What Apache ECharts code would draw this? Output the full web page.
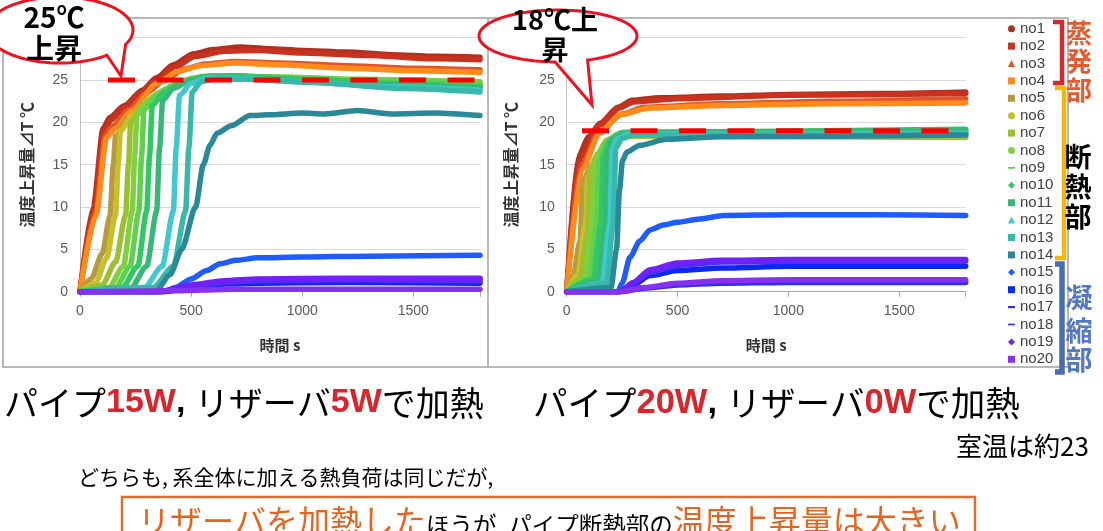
<!DOCTYPE html>
<html><head><meta charset="utf-8">
<script src="https://cdn.jsdelivr.net/npm/echarts@6/dist/echarts.min.js"></script>
<style>html,body{margin:0;padding:0;background:#fff}#c{width:1103px;height:531px}</style>
</head><body><div id="c"></div>
<script>
// ---------- data ----------
const seriesNames = ['no1','no2','no3','no4','no5','no6','no7','no8','no9','no10','no11','no12','no13','no14','no15','no16','no17','no18','no19','no20'];
const seriesColors = ['#B03020','#C8321E','#E0552A','#FF8C1A','#B89A40','#C8C028','#9CC030','#80D040','#60D050','#30C860','#38B878','#40C8D0','#38B8A8','#2A8898','#1E5CFF','#0A28F0','#3030E8','#5030F0','#7020F8','#8830F0'];
const legendIcons = ['circle','rect','triangle','rect','rect','circle','rect','circle','path://M0,0L10,0L10,2.5L0,2.5Z','diamond','rect','triangle','rect','rect','diamond','rect','path://M0,0L8,0L8,2.5L0,2.5Z','path://M0,0L10,0L10,2.5L0,2.5Z','diamond','rect'];
const xTickLabels = [0, 500, 1000, 1500];
const xMax = 1800;
const yMax = 30;
const leftTarget = [[126, 25], [1800, 25]];
const rightTarget = [[69, 19], [1800, 19]];

// Left chart: pipe 15W, reservoir 5W
const leftNo1 = [[0,0],[60,10],[104,19.3],[135,20.6],[200,22],[280,23.8],[346,25.3],[420,26.8],[510,28.1],[600,28.6],[720,28.9],[850,28.7],[1000,28.5],[1200,28.3],[1400,28.0],[1600,27.8],[1800,27.7]];
const leftNo2 = [[0,0],[62,9.5],[108,19],[140,20.3],[200,21.8],[280,23.6],[350,25],[430,26.6],[520,27.8],[650,28.4],[800,28.5],[1000,28.2],[1300,27.9],[1600,27.5],[1800,27.4]];
const leftNo3 = [[0,0],[70,9.5],[115,18.5],[150,19.6],[220,21.5],[300,23.5],[380,25],[470,26.3],[560,26.9],[700,27.2],[900,27],[1200,26.7],[1500,26.4],[1800,26.2]];
const leftNo4 = [[0,0],[72,9],[120,18.2],[160,19.3],[230,21.3],[346,24.6],[440,26],[540,26.7],[700,27.0],[900,26.8],[1200,26.4],[1500,26.1],[1800,25.9]];
const leftNo5 = [[0,0],[50,1.5],[100,4.5],[135,9],[150,15],[160,18.4],[220,20.5],[300,22.5],[380,23.8],[460,24.7],[540,25.2],[700,25.2],[1000,24.9],[1400,24.5],[1800,24.2]];
const leftNo6 = [[0,0],[70,1],[120,4],[160,9],[172,15],[182,19],[240,21],[310,22.7],[400,24],[480,24.9],[560,25.3],[750,25.3],[1100,24.9],[1500,24.5],[1800,24.3]];
const leftNo7 = [[0,0],[100,0.8],[160,3.5],[205,9],[218,15],[228,20],[280,22],[350,23.4],[430,24.5],[510,25.2],[620,25.4],[900,25.2],[1300,24.8],[1800,24.5]];
const leftNo8 = [[0,0],[130,0.5],[195,3],[235,9.5],[246,16],[256,20.8],[310,22.6],[390,24],[480,25],[580,25.5],[850,25.4],[1250,25.1],[1800,24.8]];
const leftNo9 = [[0,0],[160,0.5],[225,3],[265,9.5],[277,16],[288,21.5],[340,23],[420,24.4],[510,25.2],[620,25.5],[950,25.3],[1350,24.9],[1800,24.6]];
const leftNo10 = [[0,0],[190,0.5],[260,3],[300,9.5],[313,16],[325,22],[380,23.6],[460,24.7],[550,25.4],[700,25.5],[1000,25.1],[1400,24.6],[1800,24.2]];
const leftNo11 = [[0,0],[230,0.5],[300,3],[345,9.5],[358,17],[372,22.6],[420,24],[500,25],[590,25.4],[800,25.2],[1200,24.6],[1800,24.0]];
const leftNo12 = [[0,0],[290,0.5],[370,3],[420,9.5],[433,17],[448,23.2],[500,24.6],[570,25.2],[700,25.2],[1000,24.8],[1400,24.2],[1800,23.8]];
const leftNo13 = [[0,0],[330,0.5],[420,3],[475,9.5],[490,17],[505,23.6],[545,24.8],[600,25.1],[750,25.1],[1050,24.7],[1450,24.0],[1800,23.6]];
const leftNo14 = [[0,0],[340,0],[405,2],[458,5],[520,10],[555,15],[585,17.3],[616,18.7],[680,19.6],[765,20.8],[850,20.9],[1000,21.1],[1100,21.0],[1250,21.4],[1400,21.0],[1600,21.1],[1800,20.8]];
const leftNo15 = [[0,0],[380,0],[430,0.5],[500,1.5],[570,2.5],[630,3.3],[700,3.7],[800,4.0],[1000,4.1],[1300,4.2],[1800,4.3]];
const leftNo16 = [[0,0],[380,0],[500,0.5],[650,0.9],[800,1.0],[1200,1.1],[1800,1.0]];
const leftNo17 = [[0,0],[360,0],[500,0.7],[650,1.2],[800,1.4],[1200,1.5],[1800,1.5]];
const leftNo18 = [[0,0],[360,0],[500,0.6],[650,1.1],[800,1.3],[1200,1.4],[1800,1.3]];
const leftNo19 = [[0,0],[350,0],[500,0.8],[650,1.3],[800,1.5],[1200,1.6],[1800,1.6]];
const leftNo20 = [[0,0],[400,0.1],[700,0.3],[1800,0.3]];

// Right chart: pipe 20W, reservoir 0W
const rightNo1 = [[0,0],[51,15.9],[100,18.3],[150,19.9],[232,21.8],[295,22.6],[420,22.9],[700,23.1],[1000,23.3],[1400,23.4],[1800,23.6]];
const rightNo2 = [[0,0],[55,15.5],[150,19.7],[240,21.7],[300,22.4],[500,22.8],[1000,23.2],[1800,23.4]];
const rightNo3 = [[0,0],[62,14.8],[150,19.0],[250,21.0],[350,21.8],[700,22.2],[1200,22.5],[1800,22.8]];
const rightNo4 = [[0,0],[70,14.5],[150,18.7],[240,20.9],[376,21.7],[700,22],[1200,22.2],[1800,22.3]];
const rightNo5 = [[0,0],[30,2],[60,6],[74,13.2],[120,15.2],[182,17.9],[260,18.5],[500,18.6],[1800,18.6]];
const rightNo6 = [[0,0],[50,2],[85,8],[95,13.5],[130,15.8],[182,17.9],[260,18.4],[1800,18.3]];
const rightNo7 = [[0,0],[60,1.5],[95,7],[105,14],[140,16.3],[190,18],[270,18.4],[1800,18.2]];
const rightNo8 = [[0,0],[80,1.5],[115,8],[125,15],[160,17],[210,18.3],[300,18.6],[1800,18.5]];
const rightNo9 = [[0,0],[100,1.5],[135,8],[145,15.5],[175,17.5],[230,18.6],[1800,18.9]];
const rightNo10 = [[0,0],[120,1.5],[155,8],[165,16],[195,17.9],[250,18.8],[1800,19.2]];
const rightNo11 = [[0,0],[140,1.2],[175,8],[185,16.5],[210,18],[260,18.8],[1800,19.1]];
const rightNo12 = [[0,0],[160,1],[195,8],[205,16.8],[230,18.1],[280,18.6],[1800,18.7]];
const rightNo13 = [[0,0],[180,1],[210,8],[222,17],[250,18.1],[300,18.5],[1800,18.6]];
const rightNo14 = [[0,0],[200,0.5],[225,5],[238,12],[252,15.5],[272,16.5],[330,17.3],[450,18.0],[700,18.3],[1800,18.5]];
const rightNo15 = [[0,0],[230,0],[250,1],[286,4.1],[330,6],[376,7.3],[440,7.9],[498,8.2],[600,8.6],[707,9.0],[1000,9.1],[1400,9.1],[1800,9.0]];
const rightNo16 = [[0,0],[240,0],[300,0.8],[376,1.9],[500,2.5],[700,2.8],[1000,3],[1800,3.0]];
const rightNo17 = [[0,0],[240,0],[350,0.4],[500,0.8],[700,1.0],[1000,1.1],[1800,1.1]];
const rightNo18 = [[0,0],[240,0],[300,1],[376,2.3],[498,3.1],[700,3.5],[1000,3.6],[1800,3.6]];
const rightNo19 = [[0,0],[240,0],[300,1.1],[376,2.6],[498,3.4],[700,3.7],[1000,3.8],[1800,3.8]];
const rightNo20 = [[0,0],[240,0],[350,0.5],[500,1],[700,1.3],[1000,1.4],[1800,1.4]];

const leftData = [leftNo1,leftNo2,leftNo3,leftNo4,leftNo5,leftNo6,leftNo7,leftNo8,leftNo9,leftNo10,leftNo11,leftNo12,leftNo13,leftNo14,leftNo15,leftNo16,leftNo17,leftNo18,leftNo19,leftNo20];
const rightData = [rightNo1,rightNo2,rightNo3,rightNo4,rightNo5,rightNo6,rightNo7,rightNo8,rightNo9,rightNo10,rightNo11,rightNo12,rightNo13,rightNo14,rightNo15,rightNo16,rightNo17,rightNo18,rightNo19,rightNo20];

// ---------- chart ----------
const CJK = '"Noto Sans CJK JP", "Noto Sans CJK SC", sans-serif';
const LAT = '"Liberation Sans", Arial, sans-serif';
const chart = echarts.init(document.getElementById('c'), null, {renderer: 'canvas'});

function curve(name, color, data, idx) {
  return {type: 'line', name, xAxisIndex: idx, yAxisIndex: idx, data, showSymbol: false, symbol: 'none',
    smooth: 0.25, smoothMonotone: 'x', lineStyle: {width: 5.5, color, cap: 'round', join: 'round'},
    itemStyle: {color}, z: 2, silent: true};
}
function target(data, idx) {
  return {type: 'line', name: 'target' + idx, xAxisIndex: idx, yAxisIndex: idx, data, showSymbol: false, symbol: 'none',
    lineStyle: {width: 5, color: '#FF0000', type: [27, 21.5]}, z: 5, silent: true};
}
const series = [];
seriesNames.forEach((n, i) => series.push(curve(n, seriesColors[i], leftData[i], 0)));
seriesNames.forEach((n, i) => series.push(curve(n, seriesColors[i], rightData[i], 1)));
series.push(target(leftTarget, 0));
series.push(target(rightTarget, 1));

function xAxis(idx) {
  return {type: 'value', gridIndex: idx, min: 0, max: xMax, interval: 500,
    name: '時間 s', nameLocation: 'middle', nameGap: 46,
    nameTextStyle: {fontFamily: CJK, fontSize: 15, fontWeight: 'bold', color: '#333'},
    axisLine: {show: true, lineStyle: {color: '#A6A6A6', width: 1}},
    axisTick: {show: true, length: 5, lineStyle: {color: '#A6A6A6'}},
    axisLabel: {margin: 12, fontFamily: LAT, fontSize: 14, color: '#595959',
      formatter: v => xTickLabels.indexOf(v) >= 0 ? String(v) : ''},
    splitLine: {show: false}};
}
function yAxis(idx, gap) {
  return {type: 'value', gridIndex: idx, min: 0, max: yMax, interval: 5,
    name: '温度上昇量⊿T ℃', nameLocation: 'middle', nameRotate: 90, nameGap: gap,
    nameTextStyle: {fontFamily: CJK, fontSize: 16, fontWeight: 'bold', color: '#333'},
    axisLine: {show: true, lineStyle: {color: '#BFBFBF', width: 1}},
    axisTick: {show: false},
    axisLabel: {margin: 12, fontFamily: LAT, fontSize: 14, color: '#595959'},
    splitLine: {show: true, lineStyle: {color: '#D9D9D9', width: 1}}};
}

function bubblePoints(cx, cy, rx, ry, a1, a2, tip) {
  const pts = [];
  for (let a = a1; a <= a2 + 360; a += 4) {
    const r = a * Math.PI / 180;
    pts.push([cx + rx * Math.cos(r), cy + ry * Math.sin(r)]);
  }
  pts.push(tip);
  return pts;
}
function vtext(x, y, ch, size, color, weight) {
  return {type: 'text', z: 21, x, y, style: {text: ch, font: (weight || 'normal') + ' ' + size + 'px ' + CJK, fill: color, align: 'center', verticalAlign: 'middle'}};
}

const graphics = [
  {type: 'rect', z: 0, shape: {x: 3, y: 18, width: 1065, height: 349}, style: {fill: 'none', stroke: '#A0A0A0', lineWidth: 1.5}},
  {type: 'line', z: 0, shape: {x1: 488, y1: 18, x2: 488, y2: 367}, style: {stroke: '#A0A0A0', lineWidth: 1.5}},
  // speech bubbles
  {type: 'polygon', z: 50, shape: {points: bubblePoints(60, 30, 73, 33, 50, 27, [121, 76])}, style: {fill: '#fff', stroke: '#F01020', lineWidth: 3}},
  {type: 'text', z: 51, x: 54, y: 17, style: {text: '25℃', font: 'bold 28px ' + CJK, fill: '#000', align: 'center', verticalAlign: 'middle'}},
  {type: 'text', z: 51, x: 54, y: 48, style: {text: '上昇', font: 'bold 28px ' + CJK, fill: '#000', align: 'center', verticalAlign: 'middle'}},
  {type: 'polygon', z: 50, shape: {points: bubblePoints(558, 36, 79, 26, 92, 68, [592, 105])}, style: {fill: '#fff', stroke: '#F01020', lineWidth: 3}},
  {type: 'text', z: 51, x: 555, y: 20, style: {text: '18℃上', font: 'bold 27px ' + CJK, fill: '#000', align: 'center', verticalAlign: 'middle'}},
  {type: 'text', z: 51, x: 555, y: 50, style: {text: '昇', font: 'bold 27px ' + CJK, fill: '#000', align: 'center', verticalAlign: 'middle'}},
  // brackets
  {type: 'polyline', z: 20, shape: {points: [[1053, 22], [1062, 22], [1062, 83], [1053, 83]]}, style: {stroke: '#D7282F', lineWidth: 4.5, fill: 'none'}},
  {type: 'polyline', z: 20, shape: {points: [[1055, 88], [1064, 88], [1064, 258], [1055, 258]]}, style: {stroke: '#F5B800', lineWidth: 4.5, fill: 'none'}},
  {type: 'polyline', z: 20, shape: {points: [[1055, 264], [1062, 264], [1062, 372], [1055, 372]]}, style: {stroke: '#4A6CB5', lineWidth: 5.5, fill: 'none'}},
  vtext(1079, 33, '蒸', 26, '#E65A30', 'bold'),
  vtext(1079, 61, '発', 26, '#E65A30', 'bold'),
  vtext(1079, 90, '部', 26, '#E65A30', 'bold'),
  vtext(1078, 157, '断', 27, '#000', 'bold'),
  vtext(1078, 187, '熱', 27, '#000', 'bold'),
  vtext(1078, 217, '部', 27, '#000', 'bold'),
  vtext(1079, 298, '凝', 27, '#5577C4', 'bold'),
  vtext(1079, 331, '縮', 27, '#5577C4', 'bold'),
  vtext(1079, 360, '部', 27, '#5577C4', 'bold'),
  // captions
  {type: 'text', z: 21, x: 4, y: 403, style: {
    text: '{k|パイプ}{r|15W}{c|, }{k|リザーバ}{r|5W}{k|で加熱}', align: 'left', verticalAlign: 'middle',
    rich: {k: {fontSize: 34, fontFamily: CJK, fill: '#000'}, r: {fontSize: 34, fontFamily: LAT, fontWeight: 'bold', fill: '#D9262C'}, c: {fontSize: 34, fontFamily: LAT, fontWeight: 'bold', fill: '#000'}}}},
  {type: 'text', z: 21, x: 533, y: 403, style: {
    text: '{k|パイプ}{r|20W}{c|, }{k|リザーバ}{r|0W}{k|で加熱}', align: 'left', verticalAlign: 'middle',
    rich: {k: {fontSize: 34.5, fontFamily: CJK, fill: '#000'}, r: {fontSize: 34.5, fontFamily: LAT, fontWeight: 'bold', fill: '#D9262C'}, c: {fontSize: 34.5, fontFamily: LAT, fontWeight: 'bold', fill: '#000'}}}},
  {type: 'text', z: 21, x: 956, y: 446, style: {text: '室温は約23', font: '26px ' + CJK, fill: '#000', align: 'left', verticalAlign: 'middle'}},
  {type: 'text', z: 21, x: 78, y: 477, style: {text: 'どちらも, 系全体に加える熱負荷は同じだが,', font: '21px ' + CJK, fill: '#000', align: 'left', verticalAlign: 'middle'}},
  {type: 'rect', z: 20, shape: {x: 122, y: 497, width: 853, height: 60}, style: {fill: '#fff', stroke: '#E36C2A', lineWidth: 2.5}},
  {type: 'text', z: 21, x: 138, y: 521, style: {
    text: '{o|リザーバを加熱した}{s|ほうが, パイプ断熱部の}{o|温度上昇量は大きい}', align: 'left', verticalAlign: 'middle',
    rich: {o: {fontSize: 32, fontFamily: CJK, fill: '#E8641E'}, s: {fontSize: 23.5, fontFamily: CJK, fill: '#000', verticalAlign: 'bottom'}}}}
];

chart.setOption({
  animation: false,
  backgroundColor: '#fff',
  grid: [
    {left: 80, top: 37.7, width: 400, height: 254},
    {left: 566.7, top: 37.7, width: 399, height: 254}
  ],
  xAxis: [xAxis(0), xAxis(1)],
  yAxis: [yAxis(0, 45), yAxis(1, 48)],
  legend: {
    orient: 'vertical', left: 1008, top: 20, padding: 0, itemGap: 0, itemWidth: 7, itemHeight: 7, itemTextGap: 5,
    textStyle: {fontFamily: LAT, fontSize: 15, color: '#404040', lineHeight: 17.4},
    data: seriesNames.map((n, i) => ({name: n, icon: legendIcons[i]}))
  },
  series,
  graphic: graphics
});
</script>
</body></html>
